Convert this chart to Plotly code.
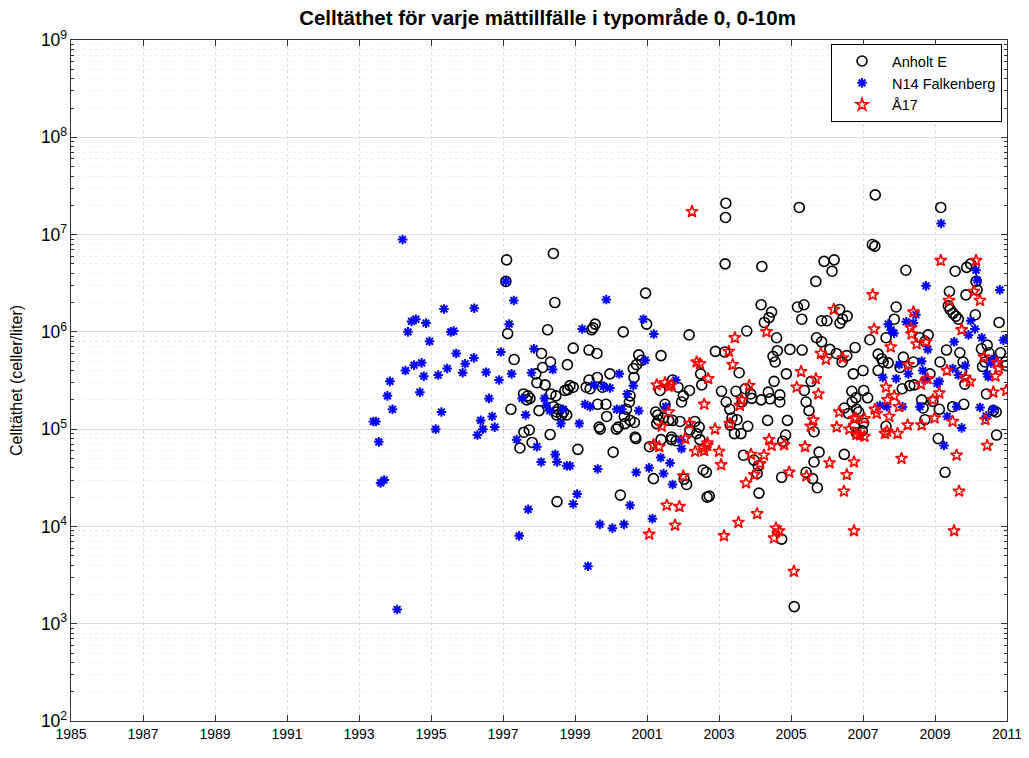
import plotly.graph_objects as go

# ---------------- data ----------------
anholt_year = [
    1997.10, 1997.08, 1997.13, 1997.22, 1997.31, 1997.47, 1997.57, 1997.58, 1997.66, 1997.69,
    1997.73, 1997.75, 1997.81, 1997.91, 1997.94, 1998.00, 1998.07, 1998.10, 1998.17, 1998.24,
    1998.31, 1998.32, 1998.33, 1998.40, 1998.40, 1998.44, 1998.47, 1998.49, 1998.49, 1998.50,
    1998.53, 1998.63, 1998.68, 1998.72, 1998.77, 1998.79, 1998.80, 1998.86, 1998.95, 1998.95,
    1999.08, 1999.31, 1999.39, 1999.39, 1999.42, 1999.46, 1999.50, 1999.56, 1999.61, 1999.62,
    1999.63, 1999.67, 1999.70, 1999.76, 1999.86, 1999.88, 1999.97, 2000.06, 2000.15, 2000.20,
    2000.26, 2000.34, 2000.37, 2000.39, 2000.43, 2000.51, 2000.53, 2000.53, 2000.62, 2000.64,
    2000.65, 2000.67, 2000.69, 2000.71, 2000.77, 2000.85, 2000.96, 2000.99, 2001.07, 2001.18,
    2001.24, 2001.27, 2001.30, 2001.32, 2001.36, 2001.39, 2001.39, 2001.45, 2001.50, 2001.60,
    2001.68, 2001.68, 2001.71, 2001.71, 2001.81, 2001.86, 2001.92, 2001.96, 2002.01, 2002.03,
    2002.10, 2002.17, 2002.18, 2002.19, 2002.33, 2002.38, 2002.45, 2002.47, 2002.49, 2002.52,
    2002.56, 2002.65, 2002.67, 2002.73, 2002.90, 2003.07, 2003.16, 2003.17, 2003.18, 2003.19,
    2003.20, 2003.30, 2003.36, 2003.31, 2003.43, 2003.47, 2003.50, 2003.56, 2003.61, 2003.64,
    2003.68, 2003.73, 2003.77, 2003.80, 2003.88, 2003.91, 2003.97, 2004.06, 2004.09, 2004.11,
    2004.17, 2004.19, 2004.17, 2004.26, 2004.35, 2004.37, 2004.39, 2004.42, 2004.46, 2004.50,
    2004.53, 2004.56, 2004.60, 2004.62, 2004.69, 2004.69, 2004.74, 2004.74, 2004.77, 2004.85,
    2004.87, 2004.90, 2004.97, 2005.09, 2005.18, 2005.23, 2005.30, 2005.31, 2005.36, 2005.37,
    2005.42, 2005.42, 2005.50, 2005.56, 2005.60, 2005.64, 2005.64, 2005.69, 2005.71, 2005.73,
    2005.78, 2005.85, 2005.85, 2005.92, 2006.00, 2006.08, 2006.14, 2006.20, 2006.26, 2006.35,
    2006.36, 2006.42, 2006.43, 2006.48, 2006.48, 2006.55, 2006.56, 2006.60, 2006.69, 2006.70,
    2006.73, 2006.78, 2006.78, 2006.82, 2006.80, 2006.82, 2006.88, 2007.02, 2006.98, 2007.00,
    2007.02, 2007.13, 2007.19, 2007.26, 2007.33, 2007.34, 2007.42, 2007.42, 2007.52, 2007.56,
    2007.64, 2007.64, 2007.70, 2007.87, 2007.92, 2008.03, 2008.09, 2008.12, 2008.19, 2008.30,
    2008.40, 2008.42, 2008.58, 2008.63, 2008.67, 2008.72, 2008.72, 2008.81, 2008.86, 2008.94,
    2009.09, 2009.12, 2009.14, 2009.16, 2009.28, 2009.32, 2009.37, 2009.40, 2009.42, 2009.49,
    2009.50, 2009.56, 2009.58, 2009.65, 2009.69, 2009.74, 2009.78, 2009.80, 2009.83, 2009.86,
    2009.88, 2009.99, 2010.12, 2010.14, 2010.17, 2010.29, 2010.43, 2010.45, 2010.50, 2010.39,
    2010.32, 2010.62, 2010.70, 2010.71, 2010.78, 2010.82, 2010.96, 2010.98,
]
anholt_value = [
    5.5e6, 3.3e6, 9.6e5, 1.6e5, 5.2e5, 6.4e4, 2.3e5, 9.3e4, 2.0e5, 2.2e5,
    9.8e4, 2.07e5, 7.3e4, 3.7e5, 3.0e5, 1.55e5, 6.0e5, 4.3e5, 2.85e5, 1.05e6,
    8.8e4, 4.9e5, 2.3e5, 6.4e6, 1.7e5, 2.0e6, 2.2e5, 1.5e5, 1.4e5, 1.8e4,
    1.6e5, 1.4e5, 1.5e5, 2.5e5, 1.4e5, 4.6e5, 2.55e5, 2.8e5, 6.8e5, 2.7e5,
    6.2e4, 2.7e5, 6.5e5, 3.2e5, 2.6e5, 1.05e6, 1.1e6, 1.2e6, 6.0e5, 3.4e5,
    1.8e5, 1.05e5, 1.0e5, 2.7e5, 1.8e5, 1.35e5, 3.7e5, 5.8e4, 1.0e5, 1.05e5,
    2.1e4, 1.0e6, 1.35e5, 1.14e5, 1.6e5, 1.9e5, 2.2e5, 1.23e5, 4.2e5, 3.4e5,
    1.17e5, 8.3e4, 8.0e4, 4.6e5, 5.8e5, 5.1e5, 2.5e6, 1.2e6, 6.6e4, 3.1e4,
    1.5e5, 1.14e5, 1.4e5, 1.24e5, 2.5e5, 5.7e5, 7.8e4, 1.3e5, 1.8e5, 1.23e5,
    8.3e4, 7.8e4, 3.2e5, 1.23e5, 7.6e4, 2.7e5, 1.2e5, 1.9e5, 2.2e5, 3.05e4,
    2.7e4, 9.3e5, 2.5e5, 9.8e4, 1.2e5, 9.0e4, 1.05e5, 7.8e4, 3.7e5, 2.85e5,
    3.8e4, 3.6e4, 2.0e4, 2.05e4, 6.3e5, 2.45e5, 6.2e5, 5.0e6, 1.5e7, 2.1e7,
    1.9e5, 1.6e5, 1.3e5, 1.1e5, 9.0e4, 2.45e5, 1.25e5, 3.8e5, 9.0e4, 1.9e5,
    5.4e4, 2.6e5, 1.02e6, 1.07e5, 2.3e5, 2.07e5, 4.8e4, 3.5e4, 4.2e4, 2.2e4,
    1.9e6, 4.7e6, 2.0e5, 1.25e6, 1.23e5, 2.4e5, 1.4e6, 2.05e5, 1.6e6, 5.6e5,
    3.1e5, 4.9e5, 8.7e5, 6.4e5, 2.25e5, 1.9e5, 3.2e4, 7.4e3, 7.5e4, 8.7e4,
    3.7e5, 1.23e5, 6.6e5, 1.5e3, 1.8e6, 1.9e7, 1.35e6, 6.5e5, 1.9e6, 2.5e5,
    1.9e5, 3.6e4, 1.55e5, 3.1e5, 3.1e4, 9.4e4, 4.6e4, 3.3e6, 8.7e5, 2.5e4,
    5.8e4, 7.9e5, 1.3e6, 5.3e6, 1.3e6, 6.6e5, 4.2e6, 5.5e6, 6.0e5, 1.7e6,
    1.23e6, 4.9e5, 1.35e6, 1.65e5, 5.5e4, 5.7e5, 1.45e6, 1.45e5, 2.45e5, 1.9e5,
    3.7e5, 6.9e5, 1.07e5, 9.1e4, 2.1e5, 1.6e5, 1.5e5, 1.15e5, 9.6e4, 4.0e5,
    2.5e5, 2.1e5, 8.3e5, 7.9e6, 7.6e6, 2.56e7, 5.9e5, 4.0e5, 5.3e5, 4.9e5,
    8.7e5, 1.07e5, 4.8e5, 1.35e6, 1.8e6, 4.3e5, 2.6e5, 5.5e5, 4.3e6, 2.8e5,
    4.9e5, 2.85e5, 8.7e5, 2.0e5, 1.65e5, 1.25e5, 8.0e5, 9.3e5, 3.7e5, 1.93e5,
    8.0e4, 1.6e5, 4.9e5, 1.9e7, 3.6e4, 6.5e5, 1.85e6, 2.6e6, 1.7e6, 1.7e5,
    1.55e6, 4.2e6, 1.45e6, 1.35e6, 6.1e5, 3.9e5, 4.9e5, 1.8e5, 2.9e5, 2.4e6,
    4.6e6, 5.0e6, 1.5e6, 3.3e6, 2.7e6, 6.7e5, 2.3e5, 7.3e5, 6.1e5, 4.9e5,
    4.4e5, 1.55e5, 1.5e5, 8.7e4, 1.25e6, 6.1e5, 4.9e5, 4.5e5,
]

n14_year = [
    1993.40, 1993.47, 1993.55, 1993.60, 1993.70, 1993.79, 1993.86, 1993.93, 1994.06, 1994.21,
    1994.29, 1994.36, 1994.46, 1994.58, 1994.53, 1994.69, 1994.74, 1994.80, 1994.86, 1994.96,
    1995.13, 1995.20, 1995.29, 1995.36, 1995.45, 1995.55, 1995.63, 1995.70, 1995.88, 1995.95,
    1996.19, 1996.20, 1996.29, 1996.38, 1996.44, 1996.53, 1996.61, 1996.70, 1996.77, 1996.89,
    1996.94, 1997.08, 1997.17, 1997.24, 1997.30, 1997.38, 1997.45, 1997.53, 1997.63, 1997.70,
    1997.79, 1997.86, 1997.94, 1998.06, 1998.15, 1998.20, 1998.30, 1998.38, 1998.45, 1998.50,
    1998.61, 1998.67, 1998.77, 1998.86, 1998.95, 1999.06, 1999.12, 1999.20, 1999.28, 1999.36,
    1999.42, 1999.53, 1999.63, 1999.69, 1999.79, 1999.87, 1999.97, 2000.04, 2000.16, 2000.23,
    2000.30, 2000.36, 2000.45, 2000.53, 2000.62, 2000.70, 2000.77, 2000.90, 2000.95, 2001.06,
    2001.15, 2001.19, 2001.38, 2001.46, 2001.52, 2001.64, 2001.71, 2001.80, 2001.94, 2001.96,
    2007.47, 2007.55, 2007.66, 2007.70, 2007.78, 2007.86, 2007.92, 2008.01, 2008.10, 2008.20,
    2008.26, 2008.40, 2008.47, 2008.58, 2008.63, 2008.66, 2008.72, 2008.75, 2008.80, 2009.06,
    2009.12, 2009.17, 2009.25, 2009.34, 2009.49, 2009.53, 2009.60, 2009.65, 2009.74, 2009.84,
    2009.93, 2009.99, 2010.11, 2010.14, 2010.17, 2010.25, 2010.30, 2010.42, 2010.45, 2010.48,
    2010.55, 2010.62, 2010.64, 2010.80, 2010.90, 2010.97,
]
n14_value = [
    1.2e5, 1.2e5, 7.4e4, 2.8e4, 3.0e4, 2.2e5, 3.1e5, 1.6e5, 1.4e3, 8.9e6,
    4.0e5, 1.0e6, 1.28e6, 1.35e6, 4.55e5, 2.4e5, 4.8e5, 3.5e5, 1.23e6, 8.0e5,
    1.0e5, 3.6e5, 1.5e5, 1.72e6, 4.2e5, 1.0e6, 1.02e6, 6.0e5, 3.8e5, 4.7e5,
    5.4e5, 1.75e6, 8.7e4, 1.23e5, 1.0e5, 3.85e5, 2.07e5, 1.35e5, 1.05e5, 3.2e5,
    6.2e5, 3.3e6, 1.2e6, 3.7e5, 2.1e6, 7.8e4, 8.0e3, 2.07e5, 1.4e5, 1.5e4,
    3.8e5, 6.7e5, 6.6e4, 4.6e4, 2.07e5, 1.75e5, 1.55e5, 4.1e5, 5.5e4, 4.6e4,
    1.14e5, 1.6e5, 4.2e4, 4.2e4, 1.7e4, 2.15e4, 1.14e5, 1.07e6, 1.8e5, 3.9e3,
    1.7e5, 2.85e5, 3.9e4, 1.05e4, 2.75e5, 2.15e6, 2.65e5, 9.6e3, 1.6e5, 3.7e5,
    1.6e5, 1.05e4, 2.3e5, 1.65e4, 2.8e5, 3.6e4, 1.55e5, 1.35e6, 5.1e5, 4.0e4,
    1.2e4, 9.5e5, 5.1e4, 3.5e4, 1.7e5, 4.5e4, 2.7e4, 3.2e5, 7.8e4, 6.3e4,
    1.75e5, 3.4e5, 1.7e5, 1.2e6, 1.05e6, 9.7e5, 3.3e5, 4.6e5, 1.7e5, 1.27e6,
    3.7e5, 1.23e6, 1.5e6, 1.7e5, 5.0e5, 4.0e5, 3.2e5, 2.97e6, 6.6e5, 2.95e5,
    3.1e5, 1.3e7, 6.8e4, 1.35e5, 4.2e5, 7.9e5, 1.7e5, 3.6e5, 1.03e5, 4.5e5,
    9.3e5, 1.3e6, 1.07e6, 4.3e6, 3.4e6, 1.67e5, 8.7e5, 1.36e5, 3.7e5, 3.45e5,
    4.8e5, 1.6e5, 5.3e5, 2.7e6, 8.2e5, 8.5e5,
]

a17_year = [
    2001.06, 2001.18, 2001.27, 2001.34, 2001.41, 2001.50, 2001.55, 2001.60, 2001.60, 2001.68,
    2001.78, 2001.90, 2002.01, 2002.06, 2002.18, 2002.25, 2002.34, 2002.38, 2002.47, 2002.57,
    2002.59, 2002.59, 2002.67, 2002.68, 2002.70, 2002.89, 2003.00, 2003.06, 2003.14, 2003.27,
    2003.30, 2003.38, 2003.44, 2003.54, 2003.58, 2003.63, 2003.75, 2003.84, 2003.89, 2003.98,
    2004.06, 2004.14, 2004.25, 2004.32, 2004.39, 2004.46, 2004.53, 2004.58, 2004.67, 2004.81,
    2004.95, 2005.08, 2005.16, 2005.28, 2005.39, 2005.43, 2005.55, 2005.62, 2005.69, 2005.76,
    2005.83, 2005.97, 2006.07, 2006.19, 2006.27, 2006.34, 2006.44, 2006.47, 2006.55, 2006.62,
    2006.75, 2006.75, 2006.75, 2006.82, 2006.92, 2007.04, 2006.80, 2007.04, 2007.27, 2007.31,
    2007.33, 2007.38, 2007.73, 2007.61, 2007.67, 2007.77, 2007.64, 2007.87, 2007.68, 2008.00,
    2007.96, 2008.07, 2008.24, 2008.33, 2008.35, 2008.40, 2008.26, 2008.63, 2008.49, 2008.61,
    2008.79, 2008.75, 2008.94, 2008.99, 2009.12, 2009.16, 2009.39, 2009.33, 2009.49, 2009.53,
    2009.60, 2009.67, 2009.74, 2009.84, 2009.97, 2010.08, 2010.14, 2010.25, 2010.36, 2010.40,
    2010.45, 2010.62, 2010.72, 2010.77, 2010.68, 2010.98,
]
a17_value = [
    8.3e3, 6.9e4, 2.85e5, 6.6e4, 1.07e5, 3.0e5, 1.65e4, 2.75e5, 1.5e5, 2.85e5,
    1.03e4, 1.6e4, 3.3e4, 8.0e4, 1.14e5, 1.72e7, 5.9e4, 4.9e5, 4.7e5, 6.4e4,
    1.8e5, 6.0e4, 6.8e4, 7.2e4, 3.3e5, 1.0e5, 5.9e4, 4.3e4, 8.0e3, 6.3e5,
    1.14e5, 4.6e5, 8.7e5, 1.1e4, 1.75e5, 2.0e5, 2.8e4, 2.8e5, 5.5e4, 3.4e4,
    1.35e4, 4.4e4, 5.4e4, 1.0e6, 7.8e4, 6.8e4, 7.6e3, 9.6e3, 9.0e3, 6.9e4,
    3.6e4, 3.45e3, 2.7e5, 3.9e5, 6.6e4, 3.3e4, 1.07e5, 1.24e5, 3.3e5, 2.3e5,
    6.0e5, 5.2e5, 4.5e4, 1.7e6, 1.05e5, 1.5e5, 5.4e5, 2.3e4, 3.4e4, 1.0e5,
    4.6e4, 9.0e3, 1.28e5, 8.8e4, 8.7e4, 8.4e4, 1.3e5, 1.28e5, 2.4e6, 1.07e6,
    1.6e5, 1.45e5, 1.35e5, 9.0e4, 9.5e4, 7.0e5, 2.7e5, 2.2e5, 2.0e5, 1.7e5,
    9.0e4, 5.0e4, 1.1e5, 1.1e6, 9.5e5, 1.6e6, 4.6e5, 1.1e5, 7.5e5, 2.9e5,
    3.3e5, 7.9e5, 2.0e5, 1.3e5, 2.35e5, 5.4e6, 2.1e6, 4.0e5, 1.2e5, 9.0e3,
    5.4e4, 2.3e4, 1.05e6, 3.4e5, 3.1e5, 2.6e6, 5.4e6, 2.1e6, 5.5e5, 1.25e5,
    6.8e4, 2.4e5, 4.8e5, 4.2e5, 3.5e5, 2.5e5,
]

series_names = ["Anholt E", "N14 Falkenberg", "Å17"]
x_ticks = list(range(1985, 2012, 2))
title_text = "Celltäthet för varje mättillfälle i typområde 0, 0-10m"
y_label = "Celltäthet (celler/liter)"

# ---------------- figure ----------------
FONT = "Liberation Sans, Arial, sans-serif"

fig = go.Figure()
fig.add_trace(go.Scatter(
    x=anholt_year, y=anholt_value, mode="markers", name=series_names[0],
    marker=dict(symbol="circle-open", size=10, color="black", line=dict(width=1.6, color="black")),
))
fig.add_trace(go.Scatter(
    x=n14_year, y=n14_value, mode="markers", name=series_names[1],
    marker=dict(symbol="asterisk-open", size=8, color="blue", line=dict(width=2, color="blue")),
))
fig.add_trace(go.Scatter(
    x=a17_year, y=a17_value, mode="markers", name=series_names[2],
    marker=dict(symbol="star-open", size=9, color="red", line=dict(width=1.6, color="red")),
))

axis_font = dict(family=FONT, size=14, color="black")
grid_col = "#dcdcdc"

# The page body has an 8px default margin, so the figure is sized to fit the window.
fig.update_layout(
    width=1013, height=742,
    paper_bgcolor="white", plot_bgcolor="white",
    margin=dict(l=63, r=14, t=32, b=29, autoexpand=False),
    title=dict(text="<b>" + title_text + "</b>", x=0.5326, xanchor="center", y=0.996, yanchor="top",
               font=dict(family=FONT, size=20.5, color="black")),
    showlegend=True,
    legend=dict(x=0.9947, y=0.994, xanchor="right", yanchor="top",
                bordercolor="black", borderwidth=1, bgcolor="white",
                font=dict(family=FONT, size=14.5, color="black"),
                itemsizing="trace", itemwidth=50, tracegroupgap=0),
    xaxis=dict(range=[1985, 2011], tickmode="array", tickvals=x_ticks,
               ticktext=[str(t) for t in x_ticks], automargin=False, ticklabeloverflow="allow",
               showline=True, linecolor="#333333", linewidth=1, mirror="ticks",
               ticks="inside", ticklen=6, tickcolor="#333333",
               showgrid=True, gridcolor=grid_col, griddash="dot", gridwidth=1,
               zeroline=False, tickfont=axis_font),
    yaxis=dict(type="log", range=[2, 9], dtick=1, exponentformat="power", automargin=False,
               showline=True, linecolor="#333333", linewidth=1, mirror="ticks",
               ticks="inside", ticklen=6, tickcolor="#333333",
               showgrid=True, gridcolor=grid_col, gridwidth=1,
               minor=dict(ticks="inside", ticklen=3, tickcolor="#333333", dtick="D1",
                          showgrid=True, gridcolor="#efefef", griddash="dot"),
               zeroline=False, tickfont=axis_font,
               title=dict(text=y_label, font=dict(family=FONT, size=16, color="black"),
                          standoff=22)),
)

fig.write_html("out.html")
